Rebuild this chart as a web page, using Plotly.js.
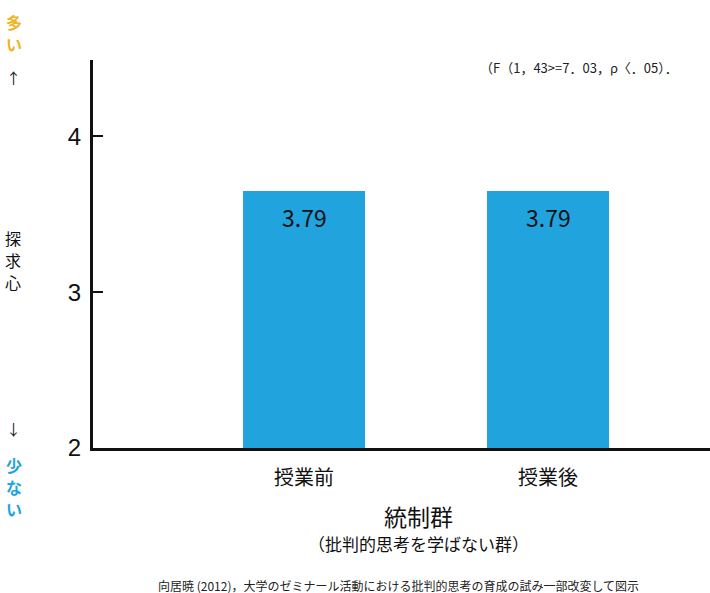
<!DOCTYPE html>
<html><head><meta charset="utf-8">
<script src="https://cdn.plot.ly/plotly-3.0.1.min.js"></script>
<style>html,body{margin:0;padding:0;background:#fff;}#chart{width:710px;height:593px;}</style>
</head><body><div id="chart"></div>
<script>
const categories = ['授業前', '授業後'];
const barValues = [3.65, 3.65];
const barLabels = ['3.79', '3.79'];
const yTicks = [2, 3, 4];
const FONT = '"Noto Sans CJK JP", "Noto Sans", sans-serif';

const trace = {
  type: 'bar', x: categories, y: barValues, width: 0.5,
  marker: {color: '#21a3de'}, hoverinfo: 'none', showlegend: false
};

const anns = categories.map((c, i) => ({
  x: c, y: barValues[i], xref: 'x', yref: 'y', text: barLabels[i], showarrow: false,
  yshift: -26, font: {family: FONT, size: 23, color: '#111'}
}));
function note(text, x, y, size, color, extra) {
  return Object.assign({xref: 'paper', yref: 'paper', x: x, y: y, text: text, showarrow: false,
    xanchor: 'center', yanchor: 'middle', borderpad: 0,
    font: {family: FONT, size: size, color: color}}, extra || {});
}
// paper coords: x paper = (px-93)/617 ; y paper = (448-py)/388
function px(p) { return (p - 93) / 617; }
function py(p) { return (448 - p) / 388; }
function vertical(text, x, yStart, step, size, color, bold) {
  Array.from(text).forEach((ch, k) => {
    anns.push(note(bold ? '<b>' + ch + '</b>' : ch, px(x), py(yStart + k * step), size, color));
  });
}
anns.push(note('（F（1，43&gt;=7．03，ρ〈．05）．', px(579), py(67), 13, '#222'));
anns.push(note('統制群', px(418), py(516), 23, '#111'));
anns.push(note('（批判的思考を学ばない群）', px(418), py(543), 17, '#111'));
anns.push(note('向居暁 (2012)，大学のゼミナール活動における批判的思考の育成の試み一部改変して図示', px(398), py(585), 12, '#222'));
vertical('多い', 14, 22, 22, 16, '#f0b323', true);
anns.push(note('↑', px(13), py(78), 15, '#222'));
vertical('探求心', 13, 238, 22, 16, '#111', false);
anns.push(note('↓', px(13), py(428), 15, '#222'));
vertical('少ない', 14, 465, 22, 16, '#21a3de', true);

const layout = {
  width: 710, height: 593,
  margin: {l: 93, r: 0, t: 60, b: 145},
  paper_bgcolor: '#fff', plot_bgcolor: '#fff',
  font: {family: FONT, color: '#111'},
  xaxis: {
    type: 'category', range: [-0.865, 1.664], showline: true, linecolor: '#111', linewidth: 3,
    ticks: '', showgrid: false, zeroline: false, tickfont: {family: FONT, size: 20, color: '#111'},
    ticklabelstandoff: 10, fixedrange: true
  },
  yaxis: {
    range: [2, 4.49], tickvals: yTicks, ticktext: yTicks.map(String), showline: true, linecolor: '#111',
    linewidth: 3, ticks: 'inside', ticklen: 10, tickwidth: 2, tickcolor: '#111', showgrid: false, zeroline: false,
    tickfont: {family: 'Liberation Sans, Arial, sans-serif', size: 24, color: '#111'}, ticklabelstandoff: 4
  },
  annotations: anns,
  bargap: 0.5
};
Plotly.newPlot('chart', [trace], layout, {displayModeBar: false, staticPlot: true});
</script></body></html>
